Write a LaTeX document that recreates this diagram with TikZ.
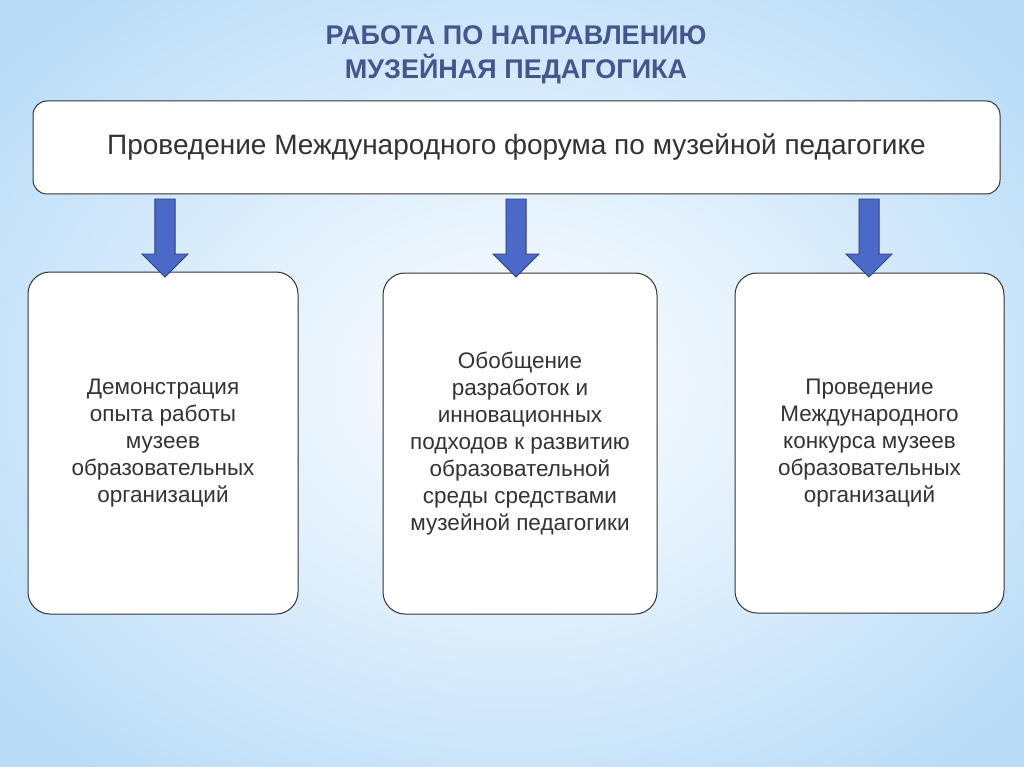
\documentclass[tikz,border=0pt]{standalone}
\usepackage{fontspec}
\setmainfont{Liberation Sans}
\usetikzlibrary{shapes.arrows,calc}
\definecolor{titleblue}{RGB}{70,85,140}
\definecolor{arrowblue}{RGB}{75,105,200}
\definecolor{arrowedge}{RGB}{45,60,130}
\definecolor{skyblue}{RGB}{185,220,248}
\tikzset{
  panel/.style={draw=black!80, line width=1pt, fill=white, rounded corners=22pt, align=center, font=\fontsize{22.5}{27}\selectfont, text=black!80},
  downarrow/.style={single arrow, draw=arrowedge, fill=arrowblue, line width=0.8pt, shape border rotate=270, minimum height=78pt, minimum width=46pt, single arrow head extend=12pt, single arrow head indent=0pt, inner sep=9pt}
}
\begin{document}
\begin{tikzpicture}[x=1pt,y=-1pt]
  \useasboundingbox (0,0) rectangle (1024,767);
  % background
  \begin{scope}
    \clip (0,0) rectangle (1024,767);
    \shade[inner color=white, outer color=skyblue] (-150,-120) rectangle (1174,887);
  \end{scope}
  % title
  \node[text=titleblue, font=\bfseries\fontsize{27}{34}\selectfont, align=center] (title) at (516,55) {РАБОТА ПО НАПРАВЛЕНИЮ\\МУЗЕЙНАЯ ПЕДАГОГИКА};
  % boxes
  \node[panel, rounded corners=14pt, minimum width=967pt, minimum height=93pt, font=\fontsize{28}{30}\selectfont] (forum) at (516.5,147.5) {Проведение Международного форума по музейной педагогике};
  \node[panel, minimum width=270pt, minimum height=342pt] (demo) at (163,443) {Демонстрация\\опыта работы\\музеев\\образовательных\\организаций};
  \node[panel, minimum width=274pt, minimum height=341pt] (summary) at (520,443.5) {Обобщение\\разработок и\\инновационных\\подходов к развитию\\образовательной\\среды средствами\\музейной педагогики};
  \node[panel, minimum width=269pt, minimum height=340pt] (contest) at (869.5,443) {Проведение\\Международного\\конкурса музеев\\образовательных\\организаций};
  % arrows
  \node[downarrow] (a1) at (165,233) {};
  \node[downarrow] (a2) at (516,233) {};
  \node[downarrow] (a3) at (869,233) {};
\end{tikzpicture}
\end{document}
